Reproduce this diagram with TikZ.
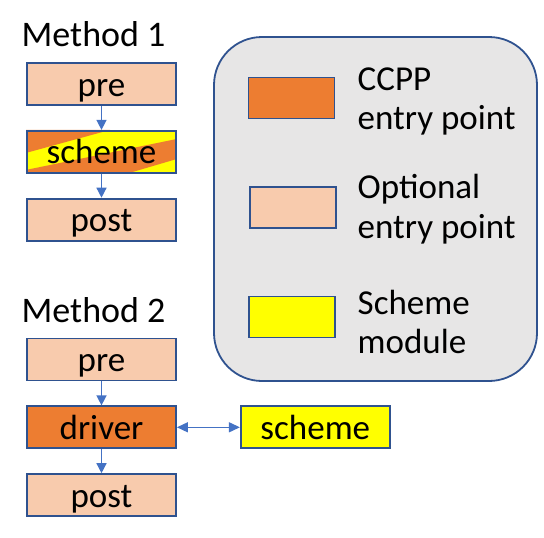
\documentclass[tikz,border=0pt]{standalone}
\usepackage{fontspec}
\setmainfont{Carlito}
\usepackage{xcolor}
\usetikzlibrary{shapes, arrows.meta, positioning, calc, backgrounds}

\definecolor{ccpporange}{HTML}{ED7D31}
\definecolor{optpeach}{HTML}{F8CBAD}
\definecolor{schemeyellow}{HTML}{FFFF00}
\definecolor{boxblue}{HTML}{2F528F}
\definecolor{arrowblue}{HTML}{4472C4}
\definecolor{legendgray}{HTML}{E7E6E6}

\begin{document}
\begin{tikzpicture}[
    x=1pt,
    y=-1pt,
    font=\fontsize{35}{39.5}\selectfont,
    block/.style={
        rectangle,
        draw=boxblue,
        line width=1.8pt,
        minimum width=149pt,
        minimum height=42pt,
        inner sep=0pt,
        text height=27pt,
        text depth=3pt
    },
    optional/.style={block, fill=optpeach},
    entry/.style={block, fill=ccpporange},
    module/.style={block, fill=schemeyellow},
    keybox/.style={
        rectangle,
        draw=boxblue,
        line width=1.8pt,
        minimum width=86pt,
        minimum height=41pt,
        inner sep=0pt
    },
    keytext/.style={anchor=base west, align=left, inner sep=0pt},
    heading/.style={anchor=base west, inner sep=0pt, font=\fontsize{36}{40}\selectfont},
    line/.style={
        draw=arrowblue,
        line width=1.4pt,
        -{Triangle[width=10pt,length=10pt]}
    },
    twoway/.style={
        line,
        {Triangle[width=10pt,length=11pt]}-{Triangle[width=10pt,length=11pt]}
    }
]
\useasboundingbox (0,0) rectangle (544,538);

% Legend
\node [draw=boxblue, fill=legendgray, line width=1.8pt, rounded corners=48pt,
       minimum width=323pt, minimum height=344pt] (key) at (375.5,209) {};
\node [keybox, fill=ccpporange] (keyccpp) at (291.5,98) {};
\node [keybox, fill=optpeach] (keyopt) at (293,207.5) {};
\node [keybox, fill=schemeyellow] (keyscheme) at (292,317) {};
% base of a two-line node sits on its last line
\node [keytext] (txtccpp) at (357.5,129.5) {CCPP\\entry point};
\node [keytext] (txtopt) at (357.5,238) {Optional\\entry point};
\node [keytext] (txtscheme) at (357.5,353.5) {Scheme\\module};

% Method 1
\node [heading] (method1) at (21.5,46) {Method 1};
\node [optional] (pre1) at (101.5,84) {pre};
\node [block, below=24pt of pre1] (scheme1) {scheme};
\node [optional, below=24pt of scheme1] (post1) {post};

% Stripes of the mixed box, under its border and text
\begin{scope}[on background layer]
    \fill [schemeyellow] (scheme1.north west) rectangle (scheme1.south east);
    \clip (scheme1.north west) rectangle (scheme1.south east);
    \fill [ccpporange] (scheme1.north west) -- ++(84,0) -- ++(-84,23) -- cycle;
    \fill [ccpporange] (scheme1.north west) ++(0,40) -- ++(151,-31) -- ++(0,20)
        -- ++(-51,15) -- ++(-100,0) -- cycle;
\end{scope}

% Method 2
\node [heading] (method2) at (21.5,322) {Method 2};
\node [optional] (pre2) at (101.5,359.5) {pre};
\node [entry, below=24pt of pre2] (driver) {driver};
\node [optional, below=24pt of driver] (post2) {post};
\node [module, right=63pt of driver] (scheme2) {scheme};

% Paths
\path [line] (pre1) -- (scheme1);
\path [line] (scheme1) -- (post1);
\path [line] (pre2) -- (driver);
\path [line] (driver) -- (post2);
\path [twoway] (driver) -- (scheme2);

\end{tikzpicture}
\end{document}
